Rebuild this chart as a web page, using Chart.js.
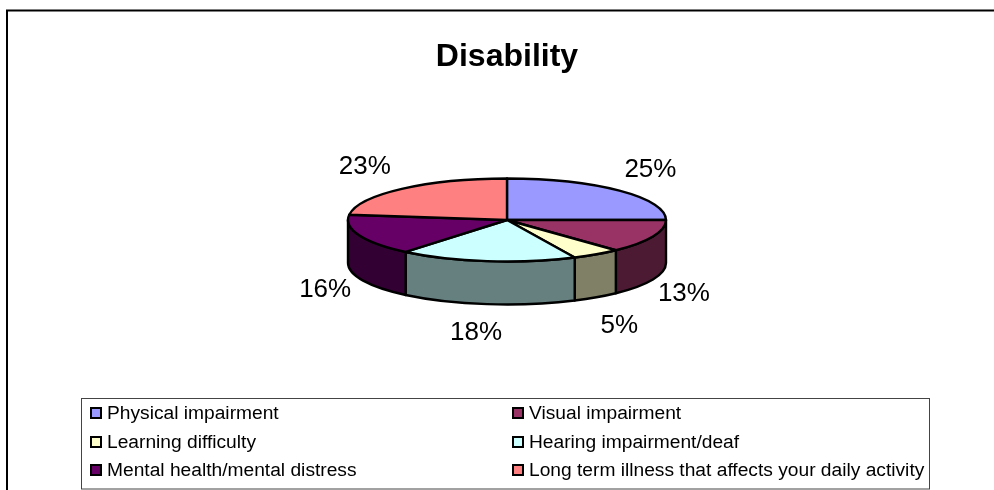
<!DOCTYPE html>
<html>
<head>
<meta charset="utf-8">
<style>
html,body{margin:0;padding:0;background:#fff;overflow:hidden}
#wrap{position:absolute;left:0;top:0;width:994px;height:490px}
</style>
<script src="https://cdn.jsdelivr.net/npm/chart.js@4"></script>
</head>
<body>
<div id="wrap"><canvas id="c" width="994" height="490"></canvas></div>
<script>
const titleText = "Disability";
const categories = ["Physical impairment","Visual impairment","Learning difficulty","Hearing impairment/deaf","Mental health/mental distress","Long term illness that affects your daily activity"];
const values = [25,13,5,18,16,23];
const topColors = ["#9999FF","#993366","#FFFFCC","#CCFFFF","#660066","#FF8080"];
const sideColors = ["#4D4D80","#4D1A33","#808066","#668080","#330033","#804040"];
// label offsets from the rim anchor of each slice, in px
const labelOffsets = [[31,-21],[31,14],[23,29],[-11,29],[-34,12],[-37,-22]];

const FONT = '"Liberation Sans", Arial, sans-serif';
const SQUASH = 41.5/159, DEPTH = 43, LW = 2.4;

const pie3d = {
  id:'pie3d',
  beforeDatasetDraw(chart,args){
    const ctx = chart.ctx, arcs = chart.getDatasetMeta(args.index).data;
    ctx.save();
    ctx.lineWidth = LW; ctx.strokeStyle = '#000'; ctx.lineJoin = 'round';
    // extruded rim: only the part of each slice facing the viewer
    arcs.forEach((el,i)=>{
      const p = el.getProps(['x','y','startAngle','endAngle','outerRadius'],true);
      const a = Math.max(p.startAngle,0), b = Math.min(p.endAngle,Math.PI);
      if (b<=a) return;
      const rx=p.outerRadius, ry=rx*SQUASH;
      ctx.beginPath();
      ctx.ellipse(p.x,p.y,rx,ry,0,a,b);
      ctx.ellipse(p.x,p.y+DEPTH,rx,ry,0,b,a,true);
      ctx.closePath();
      ctx.fillStyle = sideColors[i];
      ctx.fill(); ctx.stroke();
    });
    // top faces
    arcs.forEach((el,i)=>{
      const p = el.getProps(['x','y','startAngle','endAngle','outerRadius'],true);
      const rx=p.outerRadius, ry=rx*SQUASH;
      ctx.beginPath();
      ctx.moveTo(p.x,p.y);
      ctx.ellipse(p.x,p.y,rx,ry,0,p.startAngle,p.endAngle);
      ctx.closePath();
      ctx.fillStyle = topColors[i];
      ctx.fill(); ctx.stroke();
    });
    // percentage labels
    const total = values.reduce((s,v)=>s+v,0);
    ctx.fillStyle='#000';
    ctx.font='26px '+FONT;
    ctx.textAlign='center'; ctx.textBaseline='middle';
    arcs.forEach((el,i)=>{
      const p = el.getProps(['x','y','startAngle','endAngle','outerRadius'],true);
      const m=(p.startAngle+p.endAngle)/2;
      const rx=p.outerRadius, ry=rx*SQUASH;
      let x=p.x+rx*Math.cos(m), y=p.y+ry*Math.sin(m);
      if (Math.sin(m)>0) y+=DEPTH;
      ctx.fillText(Math.round(values[i]/total*100)+'%', x+labelOffsets[i][0], y+labelOffsets[i][1]);
    });
    ctx.restore();
    return false;
  },
  afterDraw(chart){
    const ctx=chart.ctx;
    ctx.save();
    // outer chart frame
    ctx.strokeStyle='#000'; ctx.lineWidth=2;
    ctx.beginPath(); ctx.moveTo(7,490); ctx.lineTo(7,10.5); ctx.lineTo(994,10.5); ctx.stroke();
    // legend box
    ctx.strokeStyle='#444'; ctx.lineWidth=1;
    ctx.strokeRect(81.5,398.5,848,90.5);
    ctx.font='19.2px '+FONT; ctx.textBaseline='middle'; ctx.textAlign='left';
    const cols=[90,512], rows=[413,442,470];
    categories.forEach((t,i)=>{
      const x=cols[i%2], y=rows[Math.floor(i/2)];
      ctx.fillStyle=topColors[i]; ctx.strokeStyle='#000'; ctx.lineWidth=2;
      ctx.fillRect(x+1,y-5,10,10); ctx.strokeRect(x+1,y-5,10,10);
      ctx.fillStyle='#000';
      ctx.fillText(t,x+17,y+1);
    });
    ctx.restore();
  }
};

new Chart(document.getElementById('c'),{
  type:'pie',
  data:{labels:categories,datasets:[{data:values,backgroundColor:topColors,radius:159,borderWidth:0}]},
  options:{
    responsive:false,animation:false,
    layout:{padding:{left:100,right:80,top:0,bottom:130}},
    plugins:{
      legend:{display:false},
      tooltip:{enabled:false},
      title:{display:true,text:titleText,color:'#000',
        font:{family:FONT,size:32,weight:'bold'},padding:{top:38,bottom:3.6}}
    }
  },
  plugins:[pie3d]
});
</script>
</body>
</html>
